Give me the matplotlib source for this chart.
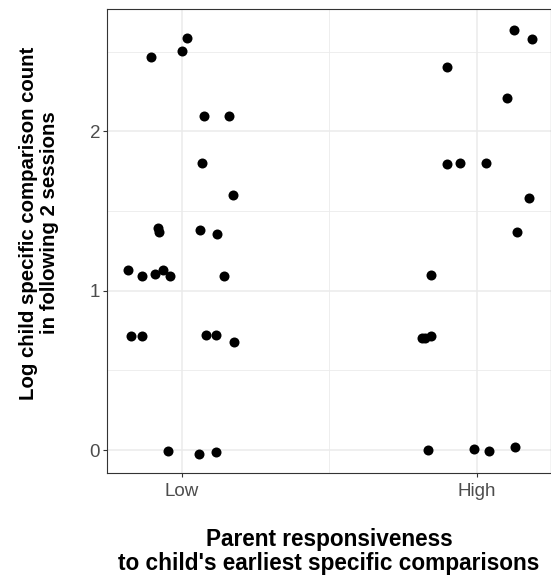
import matplotlib.pyplot as plt
import numpy as np

plt.rcParams['font.family'] = ['Liberation Sans', 'DejaVu Sans']

# groups and their points (jitter)
groups = ["Low", "High"]

low_jitter = [0.017, 0.000, -0.104, 0.077, 0.161, 0.070, 0.173, -0.081, -0.077,
              0.063, 0.121, -0.183, -0.134, -0.090, -0.062, -0.040, 0.144,
              -0.172, -0.134, 0.083, 0.117, 0.177, -0.045, 0.059, 0.117]
low_vals = [2.584, 2.505, 2.469, 2.097, 2.097, 1.804, 1.599, 1.395, 1.366,
            1.379, 1.358, 1.128, 1.092, 1.103, 1.128, 1.092, 1.090,
            0.714, 0.714, 0.722, 0.722, 0.680, -0.006, -0.023, -0.015]

high_jitter = [0.126, 0.188, -0.101, 0.102, -0.101, -0.058, 0.033, 0.178, 0.138,
               -0.156, -0.185, -0.174, -0.155, -0.166, -0.010, 0.042, 0.130]
high_vals = [2.634, 2.580, 2.406, 2.212, 1.795, 1.800, 1.802, 1.582, 1.371,
             1.099, 0.705, 0.701, 0.716, 0.000, 0.008, -0.006, 0.017]

fig = plt.figure(figsize=(5.51, 5.78), dpi=100)
ax = fig.add_axes([107/551, 105/578, 444/551, 464/578])

for i, (jit, vals) in enumerate([(low_jitter, low_vals), (high_jitter, high_vals)]):
    xs = np.array(jit) + i + 1
    ax.scatter(xs, vals, s=52, color='black', zorder=3, linewidths=0)

ax.set_xlim(0.747, 2.252)
ax.set_ylim(-0.144, 2.768)

ax.set_xticks([1, 2])
ax.set_xticklabels(groups)
ax.set_xticks([1.5], minor=True)
ax.set_yticks([0, 1, 2])
ax.set_yticks([0.5, 1.5, 2.5], minor=True)

ax.grid(True, which='major', color='#EBEBEB', linewidth=1.1, zorder=0)
ax.grid(True, which='minor', color='#EBEBEB', linewidth=0.6, zorder=0)
ax.set_axisbelow(True)

for sp in ax.spines.values():
    sp.set_color('#333333')
    sp.set_linewidth(0.8)

ax.tick_params(which='major', length=3, width=0.8, color='#333333',
               labelsize=13.5, labelcolor='#4D4D4D')
ax.tick_params(axis='y', pad=2)
ax.tick_params(axis='x', pad=4)
ax.tick_params(which='minor', length=0)

fig.text(0.071, 0.614, "Log child specific comparison count\nin following 2 sessions",
         rotation=90, ha='center', va='center', fontsize=14.7, fontweight='bold',
         linespacing=1.15)
fig.text(0.597, 0.046, "Parent responsiveness\nto child's earliest specific comparisons",
         ha='center', va='center', fontsize=16.3, fontweight='bold', linespacing=1.1)

fig.savefig('out.png', dpi=100)
